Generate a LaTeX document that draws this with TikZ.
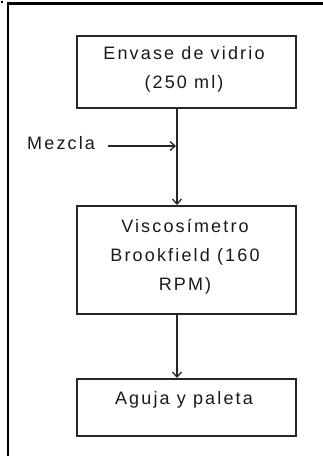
\documentclass[tikz,border=0pt]{standalone}
\usepackage{fontspec}
\setmainfont{Liberation Sans}[LetterSpace=12]
\usetikzlibrary{arrows.meta}
\begin{document}
\begin{tikzpicture}[x=1pt,y=-1pt,
  box/.style={draw=black!85,line width=1.8pt,minimum width=219pt,inner sep=0pt},
  txt/.style={anchor=base,inner sep=0pt,font=\fontsize{18}{29}\selectfont,text=black!90},
  conn/.style={draw=black!85,line width=1.3pt,-{Straight Barb[length=5pt,width=9pt,line width=1.3pt]}},
  frame/.style={draw=black,line width=2.5pt}]
\useasboundingbox (0,0) rectangle (322,456);
\fill[black] (0.5,0.5) rectangle (2.5,3);
\draw[frame] (8,460) -- (8,3.5) -- (326,3.5);
\node[box,minimum height=72pt,anchor=north west] (b1) at (76,35) {};
\node[box,minimum height=108pt,anchor=north west] (b2) at (76,205) {};
\node[box,minimum height=57pt,anchor=north west] (b3) at (76,378) {};
\node[txt] (t1a) at (184,59) {Envase de vidrio};
\node[txt] (t1b) at (184,88) {(250 ml)};
\node[txt] (t2a) at (185,232) {Viscosímetro};
\node[txt] (t2b) at (185,261) {Brookfield (160};
\node[txt] (t2c) at (185,290) {RPM)};
\node[txt] (t3) at (184,404) {Aguja y paleta};
\node[txt,anchor=base west] (mz) at (27,149) {Mezcla};
\coordinate (ax) at (177,0);
\coordinate (mzstart) at (108,146);
\coordinate (mzend) at (176,146);
\draw[conn] (b1.south -| ax) -- (b2.north -| ax);
\draw[conn] (b2.south -| ax) -- (b3.north -| ax);
\draw[conn] (mzstart) -- (mzend);
\end{tikzpicture}
\end{document}
